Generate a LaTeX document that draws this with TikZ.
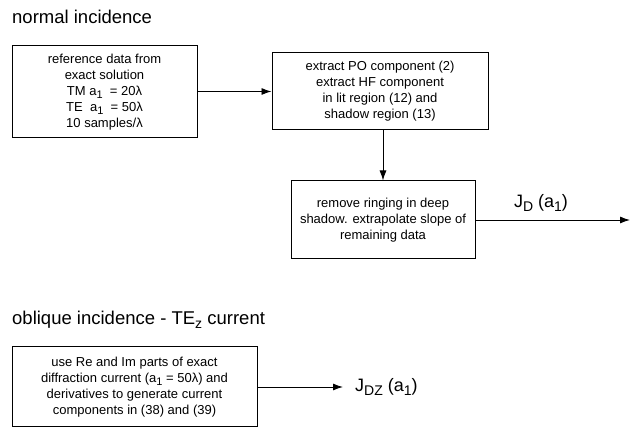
\documentclass[tikz,border=0pt]{standalone}
\usepackage{fontspec}
\setmainfont{Liberation Sans}
\usetikzlibrary{arrows.meta,calc}

\newcommand{\lowsub}[1]{\raisebox{-0.45ex}{\fontsize{11}{11}\selectfont #1}}

\tikzset{
  stepbox/.style={draw, line width=1pt, align=center, inner sep=0pt,
    font=\fontsize{13}{16}\selectfont},
  flow/.style={line width=0.9pt, -{Latex[length=10pt,width=7pt]}},
  heading/.style={anchor=west, inner sep=0pt, font=\fontsize{18.5}{22}\selectfont},
}

\begin{document}
\begin{tikzpicture}[x=1pt, y=-1pt]
\useasboundingbox (0,0) rectangle (635,430);

% normal incidence
\node [heading] (normal) at (12,17) {normal incidence};

\node [stepbox, minimum width=185pt, minimum height=92pt] (refdata) at (104.5,92)
  {reference data from\\ exact solution\\ TM a\lowsub{1}\ \ = 20λ\\ TE\ \ a\lowsub{1}\ \ = 50λ\\ 10 samples/λ};
\node [stepbox, minimum width=216pt, minimum height=77pt] (extract) at (380,91.5)
  {extract PO component (2)\\ extract HF component\\ in lit region (12) and\\ shadow region (13)};
\node [stepbox, minimum width=184pt, minimum height=78pt] (ringing) at (383,220)
  {remove ringing in deep\\ shadow. extrapolate slope of\\ remaining data};

\coordinate (jdend) at (630,220);
\node [font=\fontsize{18}{20}\selectfont, inner sep=0pt] (jdlabel) at (541,203) {J\lowsub{\fontsize{14}{14}\selectfont D} (a\lowsub{\fontsize{14}{14}\selectfont 1})};

\draw [flow] (refdata.east |- extract.west) -- (extract.west);
\draw [flow] (extract.south -| ringing.north) -- (ringing.north);
\draw [flow] (ringing.east) -- (jdend);

% oblique incidence
\node [heading] (oblique) at (12,320) {oblique incidence - TE\lowsub{\fontsize{14}{14}\selectfont z} current};

\node [stepbox, minimum width=245pt, minimum height=80pt] (deriv) at (134.5,387)
  {use Re and Im parts of exact\\ diffraction current (a\lowsub{1} = 50λ) and\\ derivatives to generate current\\ components in (38) and (39)};

\coordinate (jdzend) at (343,387);
\node [anchor=west, font=\fontsize{18}{20}\selectfont, inner sep=0pt] (jdzlabel) at (355,387) {J\lowsub{\fontsize{14}{14}\selectfont DZ} (a\lowsub{\fontsize{14}{14}\selectfont 1})};

\draw [flow] (deriv.east) -- (jdzend);

\end{tikzpicture}
\end{document}
